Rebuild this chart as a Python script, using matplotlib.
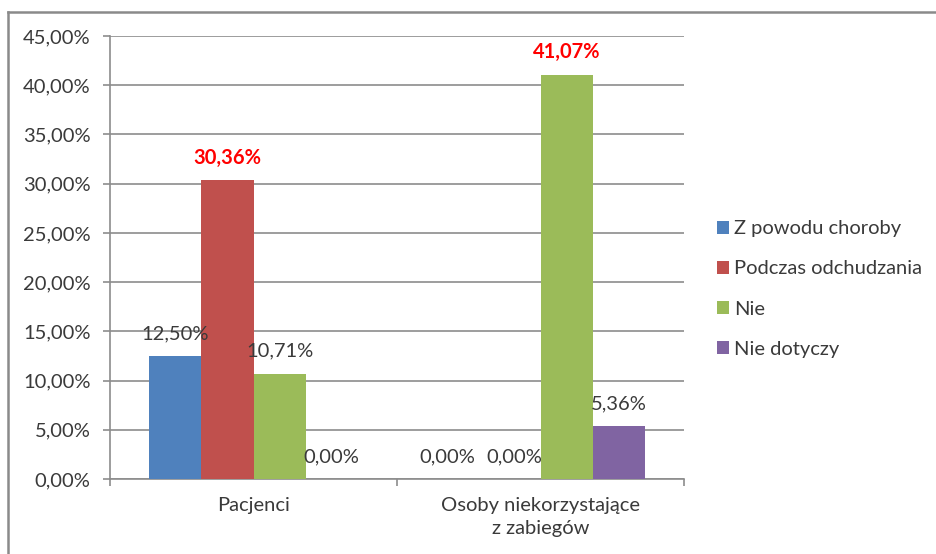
import numpy as np
import matplotlib
matplotlib.use("Agg")
import matplotlib.pyplot as plt
from matplotlib.lines import Line2D
from matplotlib.ticker import FuncFormatter

plt.rcParams["font.family"] = ["Lato", "DejaVu Sans"]

# dane
categories = ["Pacjenci", "Osoby niekorzystające\nz zabiegów"]
series = ["Z powodu choroby", "Podczas odchudzania", "Nie", "Nie dotyczy"]
values = [
    [12.50, 0.00],   # Z powodu choroby
    [30.36, 0.00],   # Podczas odchudzania
    [10.71, 41.07],  # Nie
    [0.00, 5.36],    # Nie dotyczy
]
highlight = {(1, 0), (2, 1)}  # (seria, kategoria) wyróżnione na czerwono
colors = ["#4F81BD", "#C0504D", "#9BBB59", "#8064A2"]
label_dx = {(0, 1): -11}  # przesunięcie etykiety, żeby nie zachodziła na sąsiednią

FS = 14.5
W, H = 937, 554
fig = plt.figure(figsize=(W / 100, H / 100), dpi=100)
ax = fig.add_axes([110 / W, 1 - 479 / H, (684 - 110) / W, (479 - 36) / H])

n = len(series)
bw = 1 / (n + 1.5)
x = np.arange(len(categories))
for i, (name, vals) in enumerate(zip(series, values)):
    pos = x + (i - (n - 1) / 2) * bw
    ax.bar(pos, vals, width=bw, color=colors[i], label=name, zorder=3)
    for j, (p, v) in enumerate(zip(pos, vals)):
        txt = f"{v:.2f}%".replace(".", ",")
        if (i, j) in highlight:
            kw = dict(color="#FF0000", fontweight="bold")
        else:
            kw = dict(color="#3a3a3a")
        ax.annotate(txt, (p, v), xytext=(label_dx.get((i, j), 0), 16),
                    textcoords="offset points", ha="center", va="center",
                    fontsize=FS, zorder=4, **kw)

ax.set_xlim(-0.5, len(categories) - 0.5)
ax.set_ylim(0, 45)
ax.set_yticks(np.arange(0, 46, 5))
ax.yaxis.set_major_formatter(FuncFormatter(lambda v, _: f"{v:.2f}%".replace(".", ",")))
ax.yaxis.grid(True, color="#8c8c8c", lw=1.2, zorder=0)

ax.set_xticks(x)
ax.set_xticklabels(categories, linespacing=1.45)
ax.set_xticks(np.arange(-0.5, len(categories), 1), minor=True)
ax.tick_params(axis="x", which="major", length=0, pad=13, labelsize=FS, labelcolor="#3a3a3a")
ax.tick_params(axis="x", which="minor", length=5, width=1.2, color="#8c8c8c")
ax.tick_params(axis="y", length=5, width=1.2, color="#8c8c8c", pad=9,
               labelsize=FS, labelcolor="#3a3a3a")

for s in ["top", "right"]:
    ax.spines[s].set_visible(False)
for s in ["left", "bottom"]:
    ax.spines[s].set_color("#8c8c8c")
    ax.spines[s].set_linewidth(1.2)

fig.legend(loc="center left", bbox_to_anchor=(717 / W, 1 - 289 / H),
           frameon=False, fontsize=FS, labelcolor="#3a3a3a",
           handlelength=0.6, handleheight=0.6, handletextpad=0.25,
           labelspacing=1.15, borderpad=0, borderaxespad=0)

# ramka wykresu
fig.add_artist(Line2D([8 / W, 8 / W], [0, 1 - 12 / H], transform=fig.transFigure,
                      color="#8a8a8a", lw=1.8))
fig.add_artist(Line2D([8 / W, 1], [1 - 12 / H, 1 - 12 / H], transform=fig.transFigure,
                      color="#8a8a8a", lw=1.8))

fig.savefig("out.png", dpi=100)
